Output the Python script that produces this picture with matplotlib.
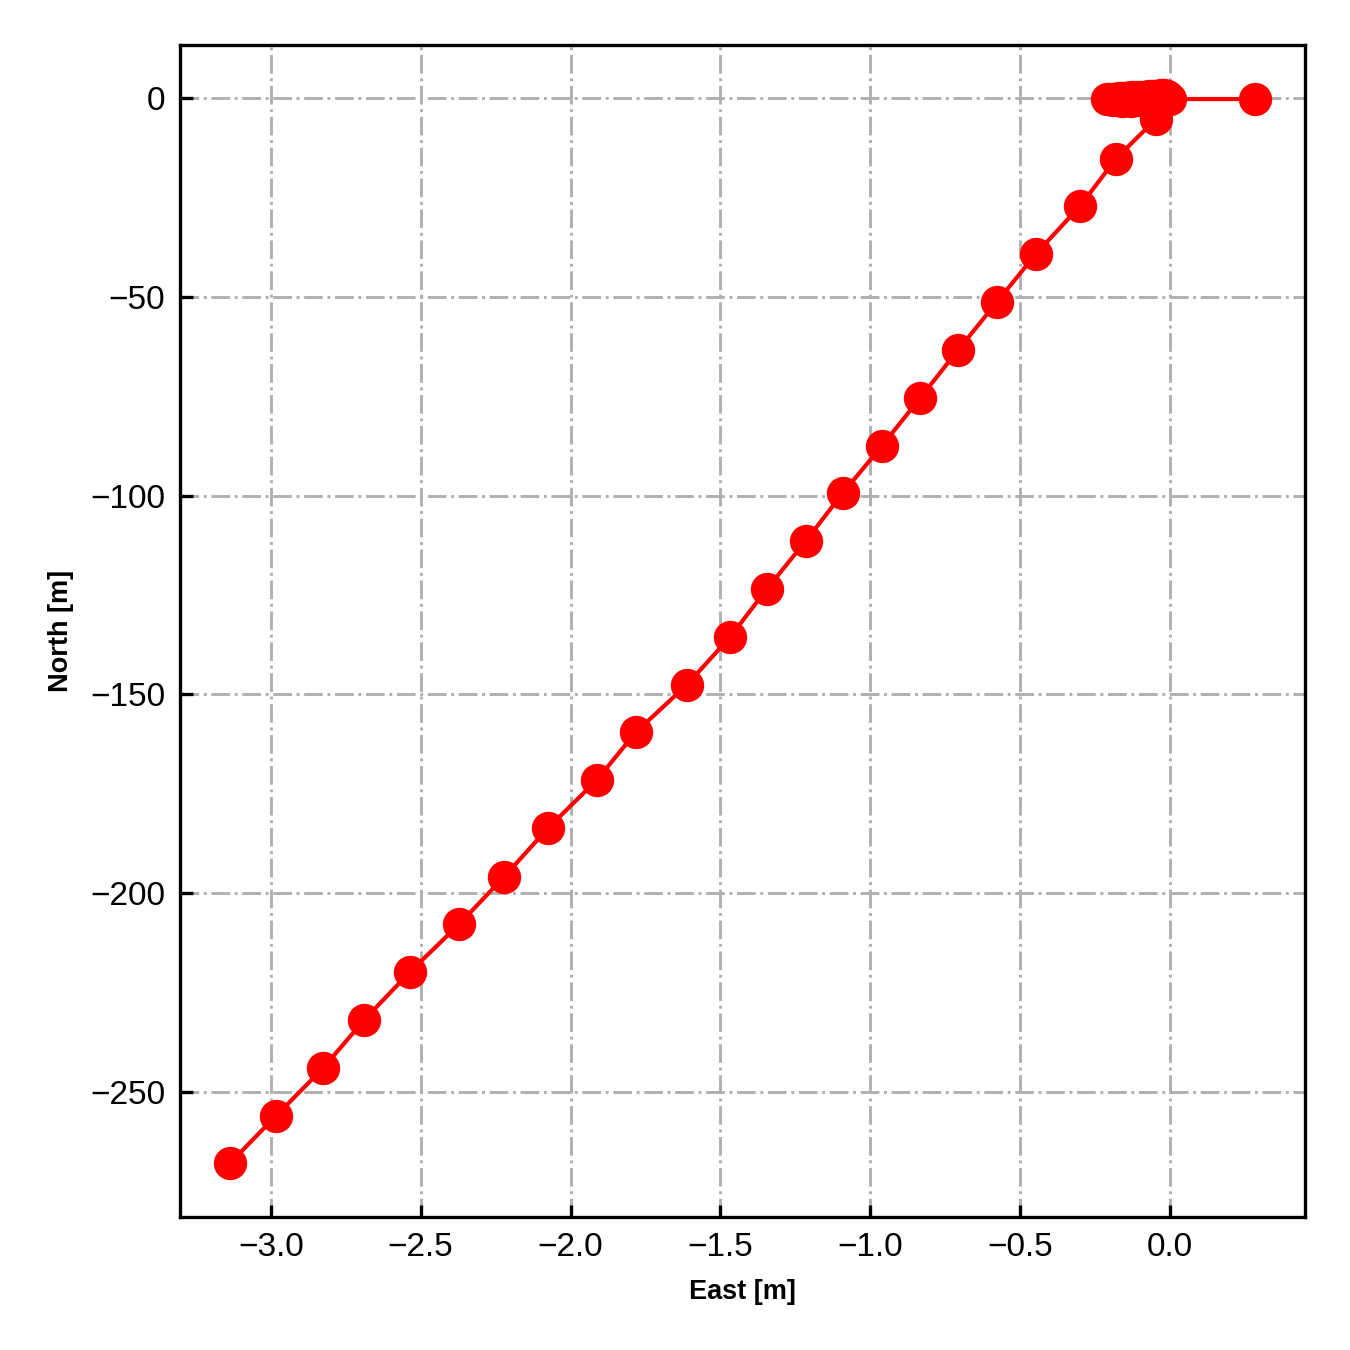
import numpy as np
import matplotlib
matplotlib.use("Agg")
import matplotlib.pyplot as plt

plt.rcParams['font.family'] = ['Liberation Sans', 'DejaVu Sans']

# trajectory, east/north in metres
east = [0.284, 0.0, -0.01, -0.02, -0.03, -0.04, -0.05, -0.06, -0.07, -0.08,
        -0.09, -0.10, -0.11, -0.12, -0.13, -0.14, -0.15, -0.16, -0.17,
        -0.18, -0.19, -0.20, -0.21, -0.19, -0.16, -0.13, -0.10, -0.07,
        -0.04, -0.02, -0.047,
        -0.180, -0.300, -0.447, -0.577, -0.707, -0.834, -0.961, -1.091,
        -1.215, -1.345, -1.468, -1.612, -1.782, -1.912, -2.075, -2.222,
        -2.372, -2.536, -2.689, -2.826, -2.983, -3.137]
north = [-0.3, -0.3, 0.5, 0.6, 0.6, 0.5, 0.5, 0.4, 0.4, 0.3,
         0.3, 0.2, 0.2, 0.1, 0.1, 0.0, 0.0, -0.1, -0.1,
         -0.2, -0.2, -0.3, -0.3, -0.6, -0.7, -0.7, -0.6, -0.5,
         -0.4, -0.3, -5.3,
         -15.3, -27.2, -39.2, -51.3, -63.4, -75.5, -87.5, -99.3,
         -111.4, -123.5, -135.6, -147.6, -159.5, -171.5, -183.6, -195.9,
         -207.8, -219.8, -231.9, -244.0, -256.0, -267.9]


def main():
    fig = plt.figure(figsize=(4.5, 4.5), dpi=300)
    ax = fig.add_axes([0.1333, 0.0985, 0.8334, 0.8682])

    ax.plot(east, north, '-o', color='red', lw=1.0, ms=7, zorder=3)

    ax.set_xlim(-3.303, 0.4505)
    ax.set_ylim(-281.4, 13.3)
    ax.set_xticks([-3.0, -2.5, -2.0, -1.5, -1.0, -0.5, 0.0])
    ax.set_yticks([0, -50, -100, -150, -200, -250])

    ax.grid(True, color='#b0b0b0', linestyle='-.', linewidth=0.7)
    ax.set_axisbelow(True)
    ax.tick_params(direction='in', labelsize=8, length=3, width=0.8)
    for s in ax.spines.values():
        s.set_linewidth(0.8)

    ax.set_xlabel('East [m]', fontsize=6.5, fontweight='bold')
    ax.set_ylabel('North [m]', fontsize=6.5, fontweight='bold')

    fig.savefig('out.png', dpi=300)


if __name__ == "__main__":
    main()
